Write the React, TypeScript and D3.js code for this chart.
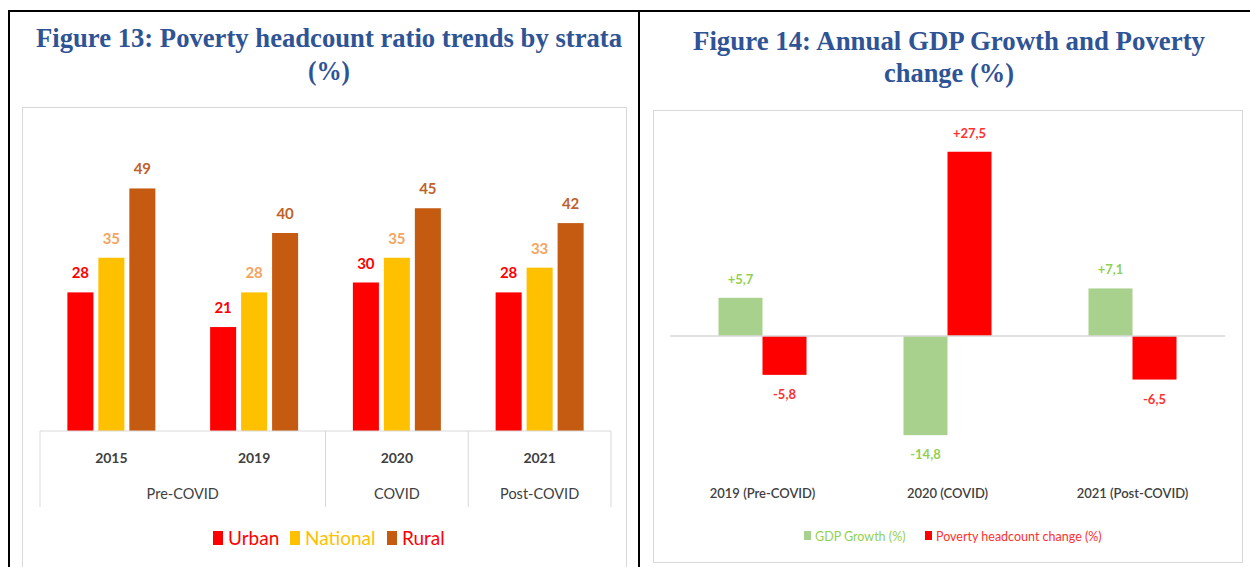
import * as d3 from "d3";

// Figure 13 data
const years = ["2015", "2019", "2020", "2021"];
const periods = [
  { name: "Pre-COVID", span: ["2015", "2019"] },
  { name: "COVID", span: ["2020", "2020"] },
  { name: "Post-COVID", span: ["2021", "2021"] },
];
const strata = ["Urban", "National", "Rural"];
const urban = [28, 21, 30, 28];
const national = [35, 28, 35, 33];
const rural = [49, 40, 45, 42];

// Figure 14 data
const gdpCategories = ["2019 (Pre-COVID)", "2020 (COVID)", "2021 (Post-COVID)"];
const gdpSeries = ["GDP Growth (%)", "Poverty headcount change (%)"];
const gdpGrowth = [5.7, -14.8, 7.1];
const povertyChange = [-5.8, 27.5, -6.5];

const barColors = ["#FF0000", "#FFC000", "#C55A11"];
const labelColors = ["#FF0000", "#F4A460", "#C0622B"];
const legendTextColors = ["#FF0000", "#FFC000", "#FF0000"];
const gdpBarColors = ["#A9D18E", "#FF0000"];
const gdpLabelColors = ["#92D050", "#FF3030"];

const titleFont = "'Liberation Serif', 'Times New Roman', serif";
const chartFont = "Lato, 'Open Sans', sans-serif";
const titleColor = "#2F5496";

const fmt = (v: number) => (v > 0 ? "+" : "") + v.toFixed(1).replace(".", ",");

function Title({ x, y, text, width }: { x: number; y: number; text: string; width?: number }) {
  return (
    <text
      x={x}
      y={y}
      textAnchor="middle"
      fontFamily={titleFont}
      fontWeight="bold"
      fontSize={27}
      fill={titleColor}
      textLength={width}
      lengthAdjust={width ? "spacingAndGlyphs" : undefined}
    >
      {text}
    </text>
  );
}

function LeftChart() {
  const values = [urban, national, rural];
  const x0 = d3.scaleBand().domain(years).range([40, 611]);
  const x1 = d3
    .scaleBand()
    .domain(strata)
    .range([x0.bandwidth() / 2 - 44, x0.bandwidth() / 2 + 44])
    .paddingInner(0.16);
  const y = d3.scaleLinear().domain([0, 50]).range([431, 183.5]);
  const axisY = y(0);

  const periodX = (p: { span: string[] }) => {
    const a = x0(p.span[0])!;
    const b = x0(p.span[1])! + x0.bandwidth();
    return [a, b];
  };

  return (
    <g>
      <Title x={329} y={47} text="Figure 13: Poverty headcount ratio trends by strata" width={586} />
      <Title x={329} y={80} text="(%)" width={42} />
      <rect x={22.5} y={107.5} width={604} height={470} fill="#fff" stroke="#d9d9d9" />

      {years.map((yr, i) => (
        <g key={yr} transform={`translate(${x0(yr)},0)`}>
          {strata.map((s, j) => {
            const v = values[j][i];
            const bx = x1(s)!;
            return (
              <g key={s}>
                <rect x={bx} y={y(v)} width={x1.bandwidth()} height={axisY - y(v)} fill={barColors[j]} />
                <text
                  x={bx + x1.bandwidth() / 2}
                  y={y(v) - 14}
                  textAnchor="middle"
                  fontFamily={chartFont}
                  fontWeight="bold"
                  fontSize={15}
                  fill={labelColors[j]}
                >
                  {v}
                </text>
              </g>
            );
          })}
        </g>
      ))}

      {/* multi-level category axis */}
      <line x1={x0.range()[0]} x2={x0.range()[1]} y1={axisY} y2={axisY} stroke="#d9d9d9" />
      {[x0.range()[0], x0("2020")!, x0("2021")!, x0.range()[1]].map((lx, i) => (
        <line key={i} x1={lx} x2={lx} y1={axisY} y2={507} stroke="#d9d9d9" />
      ))}
      {years.map((yr) => (
        <text
          key={yr}
          x={x0(yr)! + x0.bandwidth() / 2}
          y={463}
          textAnchor="middle"
          fontFamily={chartFont}
          fontWeight="bold"
          fontSize={14}
          fill="#404040"
        >
          {yr}
        </text>
      ))}
      {periods.map((p) => {
        const [a, b] = periodX(p);
        return (
          <text key={p.name} x={(a + b) / 2} y={499} textAnchor="middle" fontFamily={chartFont} fontSize={14.5} fill="#404040">
            {p.name}
          </text>
        );
      })}

      {/* legend */}
      {[
        { x: 213, label: strata[0] },
        { x: 290, label: strata[1] },
        { x: 387, label: strata[2] },
      ].map((it, j) => (
        <g key={it.label}>
          <rect x={it.x} y={531} width={10} height={14} fill={barColors[j]} />
          <text x={it.x + 15} y={545} fontFamily={chartFont} fontSize={19} fill={legendTextColors[j]}>
            {it.label}
          </text>
        </g>
      ))}
    </g>
  );
}

function RightChart() {
  const values = [gdpGrowth, povertyChange];
  const x0 = d3.scaleBand().domain(gdpCategories).range([670, 1225]);
  const x1 = d3
    .scaleBand()
    .domain(gdpSeries)
    .range([x0.bandwidth() / 2 - 44, x0.bandwidth() / 2 + 44]);
  const y = d3.scaleLinear().domain([-15, 28]).range([436.5, 148.4]);
  const zero = y(0);

  return (
    <g>
      <Title x={949} y={50} text="Figure 14: Annual GDP Growth and Poverty" width={512} />
      <Title x={949} y={82} text="change (%)" width={130} />
      <rect x={653.5} y={110.5} width={589} height={452} fill="#fff" stroke="#d9d9d9" />

      {gdpCategories.map((c, i) => (
        <g key={c} transform={`translate(${x0(c)},0)`}>
          {gdpSeries.map((s, j) => {
            const v = values[j][i];
            const bx = x1(s)!;
            const top = Math.min(y(v), zero);
            const h = Math.abs(y(v) - zero);
            return (
              <g key={s}>
                <rect x={bx} y={top} width={x1.bandwidth()} height={h} fill={gdpBarColors[j]} />
                <text
                  x={bx + x1.bandwidth() / 2}
                  y={v >= 0 ? y(v) - 14 : y(v) + 24}
                  textAnchor="middle"
                  fontFamily={chartFont}
                  fontWeight="bold"
                  fontSize={13}
                  fill={gdpLabelColors[j]}
                >
                  {fmt(v)}
                </text>
              </g>
            );
          })}
          <text
            x={x0.bandwidth() / 2}
            y={498}
            textAnchor="middle"
            fontFamily={chartFont}
            fontWeight={600}
            fontSize={13}
            fill="#404040"
          >
            {c}
          </text>
        </g>
      ))}
      <line x1={x0.range()[0]} x2={x0.range()[1]} y1={zero} y2={zero} stroke="#d9d9d9" strokeWidth={1.5} />

      {/* legend */}
      {[
        { x: 804, label: gdpSeries[0] },
        { x: 925, label: gdpSeries[1] },
      ].map((it, j) => (
        <g key={it.label}>
          <rect x={it.x} y={531} width={7} height={9} fill={gdpBarColors[j]} />
          <text x={it.x + 11} y={541} fontFamily={chartFont} fontSize={12.5} fill={gdpLabelColors[j]}>
            {it.label}
          </text>
        </g>
      ))}
    </g>
  );
}

export default function App() {
  return (
    <svg width={1250} height={567} style={{ position: "absolute", left: 0, top: 0, background: "#fff" }}>
      <rect width={1250} height={567} fill="#fff" />
      <line x1={8} x2={1250} y1={11} y2={11} stroke="#000" strokeWidth={2} />
      <line x1={9} x2={9} y1={10} y2={567} stroke="#000" strokeWidth={2} />
      <line x1={639} x2={639} y1={10} y2={567} stroke="#000" strokeWidth={2} />
      <LeftChart />
      <RightChart />
    </svg>
  );
}
